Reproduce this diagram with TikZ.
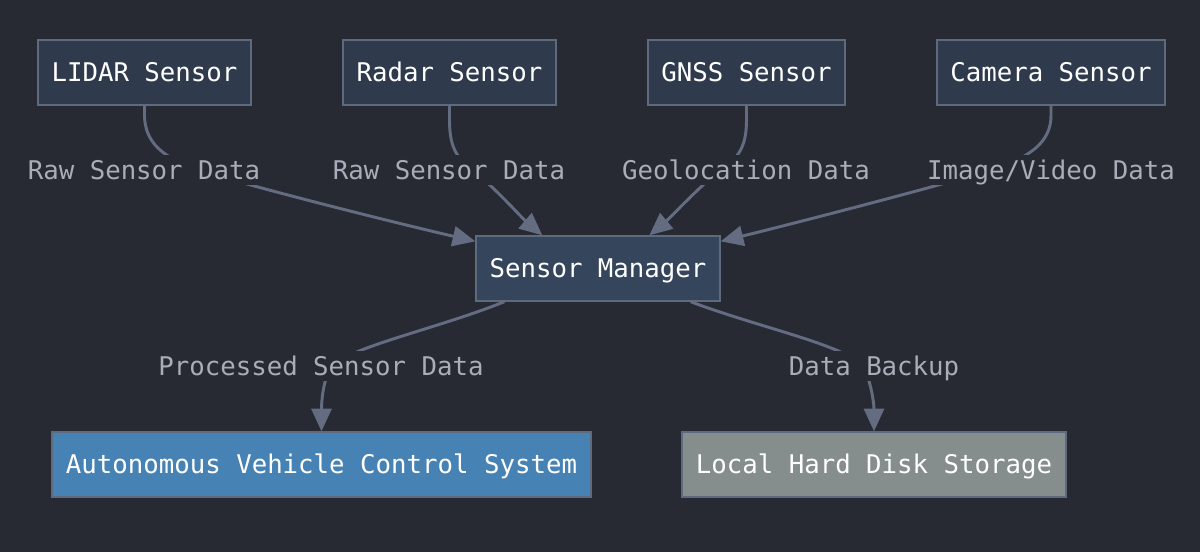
\documentclass[tikz,border=0pt]{standalone}
\usepackage{fontspec}
\setmonofont{DejaVu Sans Mono}
\usetikzlibrary{arrows.meta,calc}
\definecolor{bgc}{HTML}{282A33}
\definecolor{topfill}{HTML}{2F3B4D}
\definecolor{smfill}{HTML}{35465C}
\definecolor{bordc}{HTML}{5E6A7E}
\definecolor{edgec}{HTML}{646C82}
\definecolor{labc}{HTML}{A9ADB9}
\definecolor{avfill}{HTML}{4682B4}
\definecolor{hdfill}{HTML}{858E8C}
\tikzset{
  box/.style={draw=bordc, line width=1pt, inner sep=0pt, minimum height=48.75pt,
    text height=16pt, text depth=2pt,
    text=white, font=\ttfamily\fontsize{19.3}{23}\selectfont},
  elabel/.style={fill=bgc, text=labc, inner xsep=2pt, inner ysep=2.6pt,
    text height=16pt, text depth=2pt,
    font=\ttfamily\fontsize{19.3}{23}\selectfont},
  edge/.style={draw=edgec, line width=2.2pt, -{Triangle[length=17pt,width=15pt]}},
}
\begin{document}
\begin{tikzpicture}[x=0.75pt,y=-0.75pt]
\fill[bgc] (0,0) rectangle (1200,552);
\useasboundingbox (0,0) rectangle (1200,552);
% nodes
\node[box, fill=topfill, minimum width=159.75pt] (lidar) at (144.5,72.5) {LIDAR Sensor};
\node[box, fill=topfill, minimum width=159.75pt] (radar) at (449.5,72.5) {Radar Sensor};
\node[box, fill=topfill, minimum width=147.75pt] (gnss) at (746.5,72.5) {GNSS Sensor};
\node[box, fill=topfill, minimum width=171pt] (cam) at (1051,72.5) {Camera Sensor};
\node[box, fill=smfill, minimum width=183pt] (sm) at (598,268.5) {Sensor Manager};
\node[box, fill=avfill, minimum width=404.25pt] (avcs) at (321.5,464.5) {Autonomous Vehicle Control System};
\node[box, fill=hdfill, minimum width=288pt] (hd) at (874,464.5) {Local Hard Disk Storage};
% edges
\draw[edge] (lidar.south) -- ++(0,10) .. controls (145,142) and (162,158) .. (200,170)
  .. controls (240,184) and (400,224) .. ($(sm.north west)+(0,6)$);
\draw[edge] (radar.south) -- ++(0,14) .. controls (449.5,145) and (455,158) .. (475,172)
  .. controls (495,188) and (522,218) .. ($(sm.north west)+(67,0)$);
\draw[edge] (gnss.south) -- ++(0,14) .. controls (746.5,145) and (740,158) .. (718,172)
  .. controls (698,188) and (670,218) .. ($(sm.north west)+(174,0)$);
\draw[edge] (cam.south) -- ++(0,10) .. controls (1051,142) and (1030,158) .. (990,170)
  .. controls (950,183) and (800,222) .. ($(sm.north east)+(0,6)$);
\draw[edge] ($(sm.south west)+(29,0)$) .. controls (440,328) and (345,348) .. (330,368)
  .. controls (322,385) and (321.5,405) .. (avcs.north);
\draw[edge] ($(sm.south east)+(-30,0)$) .. controls (760,328) and (850,346) .. (864,368)
  .. controls (872,385) and (874,405) .. (hd.north);
% labels
\node[elabel] (l1) at (144,170) {Raw Sensor Data};
\node[elabel] (l2) at (449,170) {Raw Sensor Data};
\node[elabel] (l3) at (746,170) {Geolocation Data};
\node[elabel] (l4) at (1051,170) {Image/Video Data};
\node[elabel] (l5) at (321,366) {Processed Sensor Data};
\node[elabel] (l6) at (874,366) {Data Backup};
\end{tikzpicture}
\end{document}
